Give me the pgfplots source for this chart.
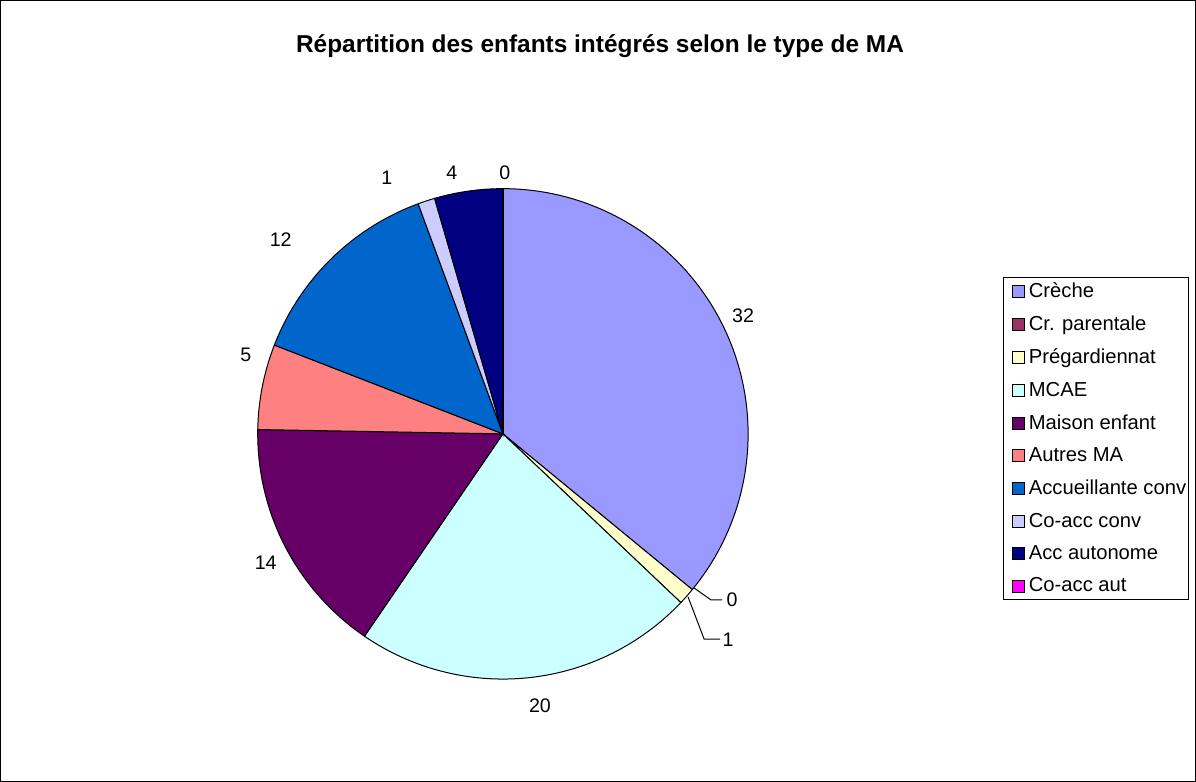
\documentclass[border=0pt]{standalone}
\usepackage{fontspec}
\setmainfont{Liberation Sans}
\usepackage{pgfplots}
\usepackage{pgfplotstable}
\pgfplotsset{compat=1.18}

\definecolor{cA}{HTML}{9999FF}
\definecolor{cB}{HTML}{993366}
\definecolor{cC}{HTML}{FFFFCC}
\definecolor{cD}{HTML}{CCFFFF}
\definecolor{cE}{HTML}{660066}
\definecolor{cF}{HTML}{FF8080}
\definecolor{cG}{HTML}{0066CC}
\definecolor{cH}{HTML}{CCCCFF}
\definecolor{cI}{HTML}{000080}
\definecolor{cJ}{HTML}{FF00FF}

% effectifs par type de MA (ordre de la legende)
\pgfplotstableread{
idx value
0 32
1 0
2 1
3 20
4 14
5 5
6 12
7 1
8 4
9 0
}\piedata

% positions des etiquettes (pixels, y vers le haut)
\pgfplotstableread{
x y v
743 466 32
732 182 0
728 142 1
540 76 20
266 219 14
246 427 5
281 542 12
387 604 1
452 609 4
505 609 0
}\labeldata

% angles de debut/fin de chaque part, depuis midi dans le sens horaire
\pgfmathsetmacro\total{0}
\pgfplotsforeachungrouped \i in {0,...,9}{%
  \pgfplotstablegetelem{\i}{value}\of\piedata
  \pgfmathsetmacro\total{\total+\pgfplotsretval}}
\def\cum{0}
\pgfplotsforeachungrouped \i in {0,...,9}{%
  \pgfplotstablegetelem{\i}{value}\of\piedata
  \pgfmathsetmacro\tmpa{90-(\cum/\total)*360}%
  \pgfmathsetmacro\cum{\cum+\pgfplotsretval}%
  \pgfmathsetmacro\tmpb{90-(\cum/\total)*360}%
  \expandafter\xdef\csname pa\i\endcsname{\tmpa}%
  \expandafter\xdef\csname pb\i\endcsname{\tmpb}}

\newcommand\piewedge[2]{%
  \addplot[fill=#2, draw=black, line width=0.5pt, samples=90, variable=\t,
    domain=\csname pb#1\endcsname:\csname pa#1\endcsname]
    ({503+245*cos(\t)},{348+245*sin(\t)}) -- (503,348) -- cycle;}

\begin{document}
\begin{tikzpicture}
\begin{axis}[
  hide axis, scale only axis, clip=false,
  width=598pt, height=391pt,
  xmin=0, xmax=1196, ymin=0, ymax=782,
  legend style={at={(1003/1196,505/782)}, anchor=north west, draw=black,
    line width=0.5pt, fill=white, font=\fontsize{10.1}{11.5}\selectfont,
    inner xsep=0.5pt, inner ysep=0.5pt, row sep=3.7pt,
    nodes={inner xsep=0.5pt},
    /tikz/every even column/.append style={column sep=1pt}},
  legend cell align=left,
  legend image code/.code={\path (-3.5pt,0) (7.5pt,0);
    \draw[#1, draw=black, line width=0.5pt] (0pt,-3pt) rectangle (6pt,3pt);},
]
\draw[black, line width=0.5pt] (1,1) rectangle (1195,781);
\node[font=\fontsize{12.2}{14}\selectfont\bfseries] at (600,735) {Répartition des enfants intégrés selon le type de MA};

\piewedge{0}{cA}
\addlegendentry{Crèche}
\addlegendimage{fill=cB}
\addlegendentry{Cr. parentale}
\piewedge{2}{cC}
\addlegendentry{Prégardiennat}
\piewedge{3}{cD}
\addlegendentry{MCAE}
\piewedge{4}{cE}
\addlegendentry{Maison enfant}
\piewedge{5}{cF}
\addlegendentry{Autres MA}
\piewedge{6}{cG}
\addlegendentry{Accueillante conv}
\piewedge{7}{cH}
\addlegendentry{Co-acc conv}
\piewedge{8}{cI}
\addlegendentry{Acc autonome}
\addlegendimage{fill=cJ}
\addlegendentry{Co-acc aut}

% part nulle en haut
\addplot[black, line width=1pt, forget plot] coordinates {(503,348) (503,593)};

% traits de rappel
\addplot[black, line width=0.5pt, forget plot] coordinates {(694,194) (711,182) (722,182)};
\addplot[black, line width=0.5pt, forget plot] coordinates {(688,185) (704,143) (720,143)};

\addplot[only marks, mark=none, forget plot, point meta=explicit symbolic,
  nodes near coords, nodes near coords style={anchor=center, font=\fontsize{9.8}{11}\selectfont}]
  table[meta=v] {\labeldata};
\end{axis}
\end{tikzpicture}
\end{document}
